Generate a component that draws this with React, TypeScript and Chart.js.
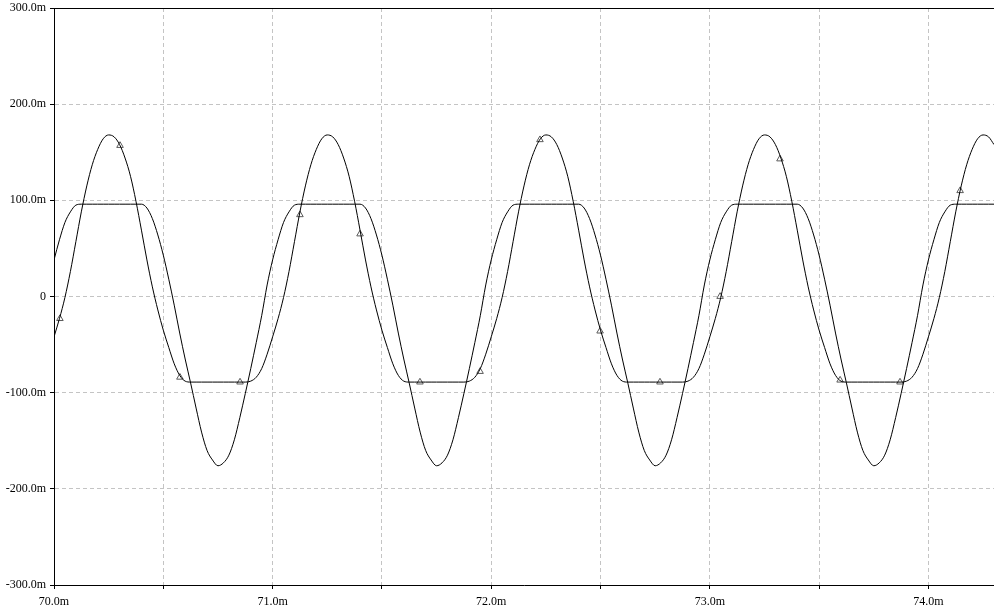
import React, { useEffect, useRef } from "react";
import { Chart, registerables } from "chart.js";

Chart.register(...registerables);

// Sampling of the traces (time axis, ms)
const startMs = 70;
const stepMs = 0.025;

// Trace with the triangle markers: peaks ~168m, clamped flat at ~-89m (values in mV)
const traceA = [
  -42, -23, -1, 26, 57, 88, 115, 137, 153, 164, 168, 166, 158, 144, 125, 99, 69, 38, 10, -14,
  -35, -53, -70, -82, -88, -89, -89, -89, -89, -89, -89, -89, -89, -89, -89, -89, -88, -84, -75, -60,
  -42, -23, -1, 26, 57, 88, 115, 137, 153, 164, 168, 166, 158, 144, 125, 99, 69, 38, 10, -14,
  -35, -53, -70, -82, -88, -89, -89, -89, -89, -89, -89, -89, -89, -89, -89, -89, -88, -84, -75, -60,
  -42, -23, -1, 26, 57, 88, 115, 137, 153, 164, 168, 166, 158, 144, 125, 99, 69, 38, 10, -14,
  -35, -53, -70, -82, -88, -89, -89, -89, -89, -89, -89, -89, -89, -89, -89, -89, -88, -84, -75, -60,
  -42, -23, -1, 26, 57, 88, 115, 137, 153, 164, 168, 166, 158, 144, 125, 99, 69, 38, 10, -14,
  -35, -53, -70, -82, -88, -89, -89, -89, -89, -89, -89, -89, -89, -89, -89, -89, -88, -84, -75, -60,
  -42, -23, -1, 26, 57, 88, 115, 137, 153, 164, 168, 166, 158,
];

// Trace clamped flat at ~96m, troughs ~-176m (values in mV)
const traceB = [
  38, 59, 77, 88, 95, 96, 96, 96, 96, 96, 96, 96, 96, 96, 96, 96, 96, 92, 81, 64,
  43, 18, -9, -38, -65, -90, -116, -141, -160, -170, -176, -173, -165, -149, -126, -101, -75, -48, -20, 12,
  38, 59, 77, 88, 95, 96, 96, 96, 96, 96, 96, 96, 96, 96, 96, 96, 96, 92, 81, 64,
  43, 18, -9, -38, -65, -90, -116, -141, -160, -170, -176, -173, -165, -149, -126, -101, -75, -48, -20, 12,
  38, 59, 77, 88, 95, 96, 96, 96, 96, 96, 96, 96, 96, 96, 96, 96, 96, 92, 81, 64,
  43, 18, -9, -38, -65, -90, -116, -141, -160, -170, -176, -173, -165, -149, -126, -101, -75, -48, -20, 12,
  38, 59, 77, 88, 95, 96, 96, 96, 96, 96, 96, 96, 96, 96, 96, 96, 96, 92, 81, 64,
  43, 18, -9, -38, -65, -90, -116, -141, -160, -170, -176, -173, -165, -149, -126, -101, -75, -48, -20, 12,
  38, 59, 77, 88, 95, 96, 96, 96, 96, 96, 96, 96, 96,
];

// Triangle markers on trace A
const markerTimes = [
  70.027, 70.302, 70.576, 70.851, 71.125, 71.4, 71.674, 71.949,
  72.223, 72.498, 72.772, 73.047, 73.321, 73.596, 73.87, 74.145,
];
const markerValues = [-23, 157, -84, -89, 85, 65, -89, -78, 163, -36, -89, 0, 143, -87, -89, 110];

// Axes
const xMin = 70;
const xMax = 74.3;
const xStep = 0.5;
const yMin = -300;
const yMax = 300;
const yStep = 100;

const tickFont = { family: '"Liberation Serif", "Times New Roman", serif', size: 12 };

const frameTop = {
  id: "frameTop",
  afterDraw(chart: any) {
    const { ctx, chartArea: a } = chart;
    ctx.save();
    ctx.strokeStyle = "#000";
    ctx.lineWidth = 1;
    ctx.beginPath();
    ctx.moveTo(a.left, Math.round(a.top) + 0.5);
    ctx.lineTo(a.right, Math.round(a.top) + 0.5);
    ctx.stroke();
    ctx.restore();
  },
};

export default function App() {
  const ref = useRef<HTMLCanvasElement | null>(null);

  useEffect(() => {
    if (!ref.current) return;
    const pts = (arr: number[]) => arr.map((v, i) => ({ x: startMs + i * stepMs, y: v }));
    const markers = markerTimes.map((t, i) => ({ x: t, y: markerValues[i] }));

    const chart = new Chart(ref.current, {
      type: "line",
      data: {
        datasets: [
          {
            data: pts(traceB),
            borderColor: "#000",
            borderWidth: 1,
            pointRadius: 0,
            cubicInterpolationMode: "monotone",
            fill: false,
          },
          {
            data: pts(traceA),
            borderColor: "#000",
            borderWidth: 1,
            pointRadius: 0,
            cubicInterpolationMode: "monotone",
            fill: false,
          },
          {
            data: markers,
            showLine: false,
            pointStyle: "triangle",
            pointRadius: 3.8,
            pointBorderWidth: 1,
            pointBorderColor: "#5a5a5a",
            pointBackgroundColor: "rgba(255,255,255,0)",
          },
        ],
      },
      options: {
        animation: false,
        responsive: false,
        devicePixelRatio: 1,
        events: [],
        layout: { autoPadding: false, padding: { top: 8, right: 0, left: 0, bottom: 0 } },
        plugins: { legend: { display: false }, tooltip: { enabled: false } },
        scales: {
          x: {
            type: "linear",
            min: xMin,
            max: xMax,
            afterFit: (s: any) => {
              s.height = 31;
              s.paddingLeft = 0;
              s.paddingRight = 0;
            },
            afterBuildTicks: (s: any) => {
              s.ticks = s.ticks.filter(
                (t: any) => Math.abs(t.value / xStep - Math.round(t.value / xStep)) < 1e-6
              );
            },
            ticks: {
              stepSize: xStep,
              autoSkip: false,
              maxRotation: 0,
              padding: 6,
              color: "#000",
              font: tickFont,
              callback: (v: any) => {
                const n = Number(v);
                return Math.abs(n - Math.round(n)) < 1e-6 ? n.toFixed(1) + "m" : "";
              },
            },
            grid: {
              color: "#c4c4c4",
              lineWidth: 1,
              tickLength: 4,
              tickColor: "#000",
              drawTicks: true,
            },
            border: { display: true, color: "#000", width: 1, dash: [4, 3] },
          },
          y: {
            type: "linear",
            min: yMin,
            max: yMax,
            afterFit: (s: any) => {
              s.width = 54;
              s.paddingTop = 0;
              s.paddingBottom = 0;
            },
            ticks: {
              stepSize: yStep,
              padding: 4,
              color: "#000",
              font: tickFont,
              callback: (v: any) => {
                const n = Number(v);
                return n === 0 ? "0" : n.toFixed(1) + "m";
              },
            },
            grid: {
              color: "#c4c4c4",
              lineWidth: 1,
              tickLength: 4,
              tickColor: "#000",
              drawTicks: true,
            },
            border: { display: true, color: "#000", width: 1, dash: [4, 3] },
          },
        },
      },
      plugins: [frameTop],
    } as any);

    return () => chart.destroy();
  }, []);

  return (
    <div style={{ position: "fixed", left: 0, top: 0, width: 994, height: 616, background: "#fff" }}>
      <canvas ref={ref} width={994} height={616} style={{ width: 994, height: 616, display: "block" }} />
    </div>
  );
}
